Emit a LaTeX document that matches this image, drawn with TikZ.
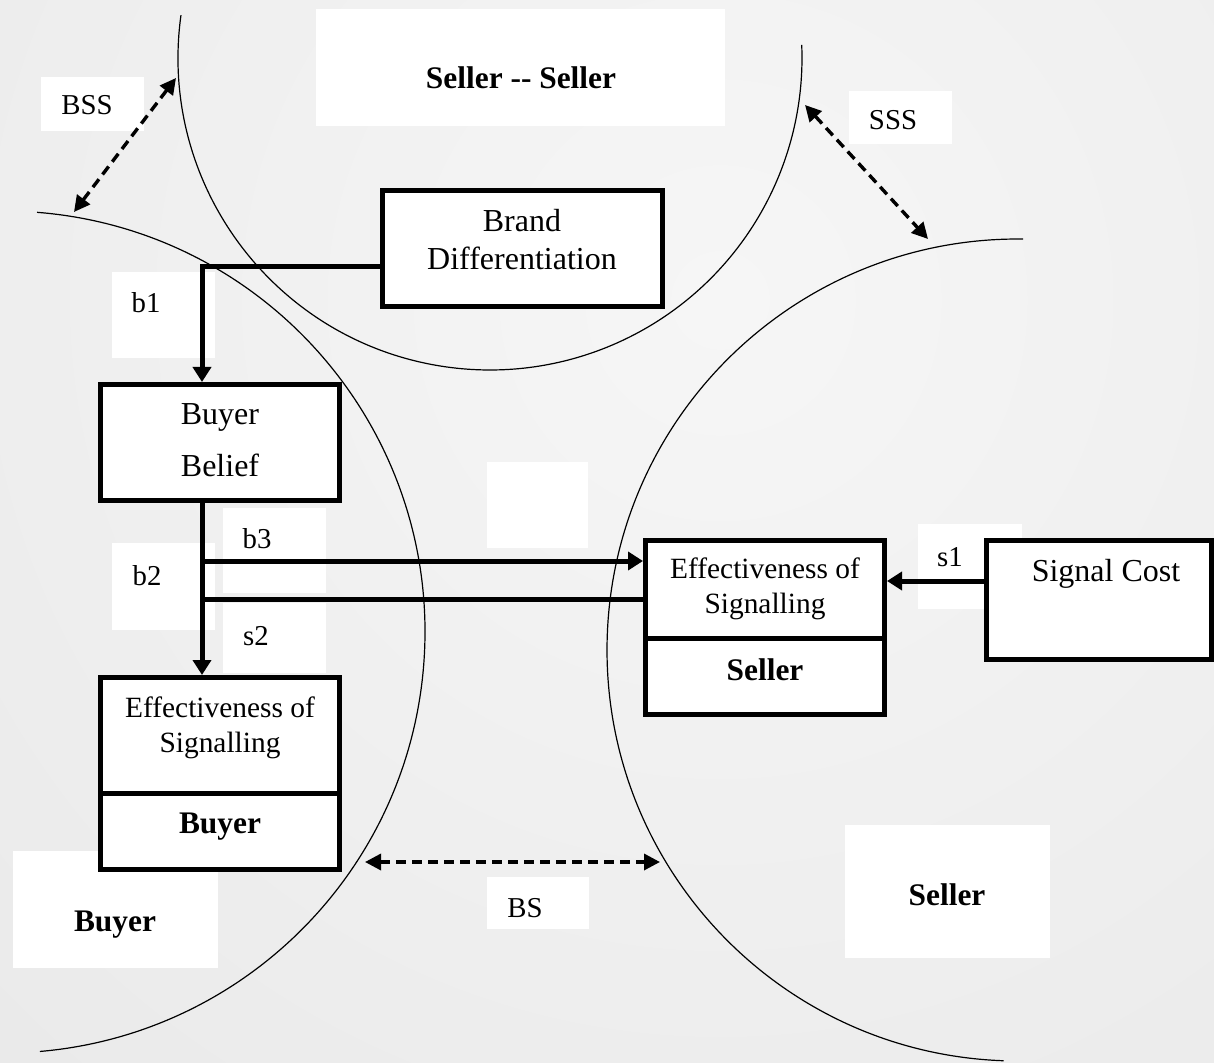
\documentclass[tikz,border=0pt]{standalone}
\usepackage{fontspec}
\setmainfont{Liberation Serif}
\usetikzlibrary{arrows.meta,calc}
\definecolor{bgin}{gray}{0.965}
\definecolor{bgout}{gray}{0.86}
\begin{document}
\begin{tikzpicture}[x=0.5pt,y=-0.5pt,
  boxnode/.style={draw=black,line width=2.5pt,fill=white,inner sep=0pt,rectangle},
  tx/.style={inner sep=0pt,anchor=base,font=\fontsize{16}{19}\selectfont},
  ex/.style={inner sep=0pt,anchor=base,font=\fontsize{14.7}{17}\selectfont},
  lb/.style={inner sep=0pt,anchor=base,font=\fontsize{14.4}{17}\selectfont},
  bf/.style={inner sep=0pt,anchor=base,font=\fontsize{15.7}{18}\selectfont\bfseries},
  conn/.style={line width=2.5pt,-{Triangle[length=7.5pt,width=9pt]}},
  plainconn/.style={line width=2.5pt},
  dasharr/.style={line width=1.7pt,dash pattern=on 5pt off 3pt,{Triangle[length=8pt,width=8pt]}-{Triangle[length=8pt,width=8pt]}},
  ring/.style={line width=0.6pt,draw=black},
  pad/.style={fill=white}]
\useasboundingbox (0,0) rectangle (1214,1063);
% background
\begin{scope}
\clip (0,0) rectangle (1214,1063);
\shade[inner color=bgin,outer color=bgout] (720,300) circle (2300);
\end{scope}
% white label pads
\fill[pad] (316,9) rectangle (725,126);
\fill[pad] (41,77) rectangle (144,131);
\fill[pad] (849,91) rectangle (952,144);
\fill[pad] (112,272) rectangle (215,358);
\fill[pad] (112,543) rectangle (215,630);
\fill[pad] (223,508) rectangle (326,593);
\fill[pad] (223,603) rectangle (326,673);
\fill[pad] (487,462) rectangle (588,548);
\fill[pad] (918,524) rectangle (1022,609);
\fill[pad] (487,877) rectangle (589,929);
\fill[pad] (845,825) rectangle (1050,958);
\fill[pad] (13,851) rectangle (218,968);
% circles
\draw[ring] (490,58) ++(187.9:312) arc[start angle=187.9,end angle=-2.4,radius=312];
\draw[ring] (4,632) ++(-85.5:421) arc[start angle=-85.5,end angle=85.1,radius=421];
\draw[ring] (1018,650) ++(270.7:411) arc[start angle=270.7,end angle=92,radius=411];
% boxes
\node[boxnode,minimum width=140pt,minimum height=58pt] (bd) at (522.5,248.5) {};
\node[boxnode,minimum width=119.5pt,minimum height=58pt] (bb) at (220,442.5) {};
\node[boxnode,minimum width=119.5pt,minimum height=57.75pt] (ebt) at (220,735.25) {};
\node[boxnode,minimum width=119.5pt,minimum height=38.25pt] (ebb) at (220,831.25) {};
\node[boxnode,minimum width=119.5pt,minimum height=48.75pt] (est) at (765,589.25) {};
\node[boxnode,minimum width=119.5pt,minimum height=38.25pt] (esb) at (765,676.25) {};
\node[boxnode,minimum width=112.5pt,minimum height=59.5pt] (sc) at (1099,600) {};
% texts
\node[bf] (tss) at (521,89) {Seller -{}- Seller};
\node[lb] (tbss) at (87,115) {BSS};
\node[lb] (tsss) at (893,130) {SSS};
\node[tx] (tbd1) at (522,232) {Brand};
\node[tx] (tbd2) at (522,270) {Differentiation};
\node[tx] (tbb1) at (220,425) {Buyer};
\node[tx] (tbb2) at (220,477) {Belief};
\node[ex] (teb1) at (220,717) {Effectiveness of};
\node[ex] (teb2) at (220,752) {Signalling};
\node[bf] (teb3) at (220,833) {Buyer};
\node[ex] (tes1) at (765,578) {Effectiveness of};
\node[ex] (tes2) at (765,613) {Signalling};
\node[bf] (tes3) at (765,680) {Seller};
\node[tx] (tsc) at (1106,581) {Signal Cost};
\node[lb] (tb1) at (146,313) {b1};
\node[lb] (tb2) at (147,585) {b2};
\node[lb] (tb3) at (257,548) {b3};
\node[lb] (ts2) at (256,645) {s2};
\node[lb] (ts1) at (950,566) {s1};
\node[lb] (tbs) at (525,917) {BS};
\node[bf] (tsel) at (947,905) {Seller};
\node[bf] (tbuy) at (115,931) {Buyer};
% connectors
\coordinate (j1) at (202,267);
\draw[conn] (bd.west |- j1) -- (j1) -- (j1 |- bb.north);
\draw[conn] (j1 |- bb.south) -- (j1 |- ebt.north);
\coordinate (j3) at (202,561);
\draw[conn] (j3) -- (j3 -| est.west);
\coordinate (j4) at (202,599);
\draw[plainconn] (j4 -| est.west) -- (j4);
\coordinate (j5) at (0,581);
\draw[conn] (j5 -| sc.west) -- (j5 -| est.east);
% dashed double arrows
\coordinate (bssA) at (74,212);
\coordinate (bssB) at (176,78);
\draw[dasharr] (bssA) -- (bssB);
\coordinate (sssA) at (805,105);
\coordinate (sssB) at (928,239);
\draw[dasharr] (sssA) -- (sssB);
\coordinate (bsA) at (365,862);
\coordinate (bsB) at (660,862);
\draw[dasharr] (bsA) -- (bsB);
\end{tikzpicture}
\end{document}
